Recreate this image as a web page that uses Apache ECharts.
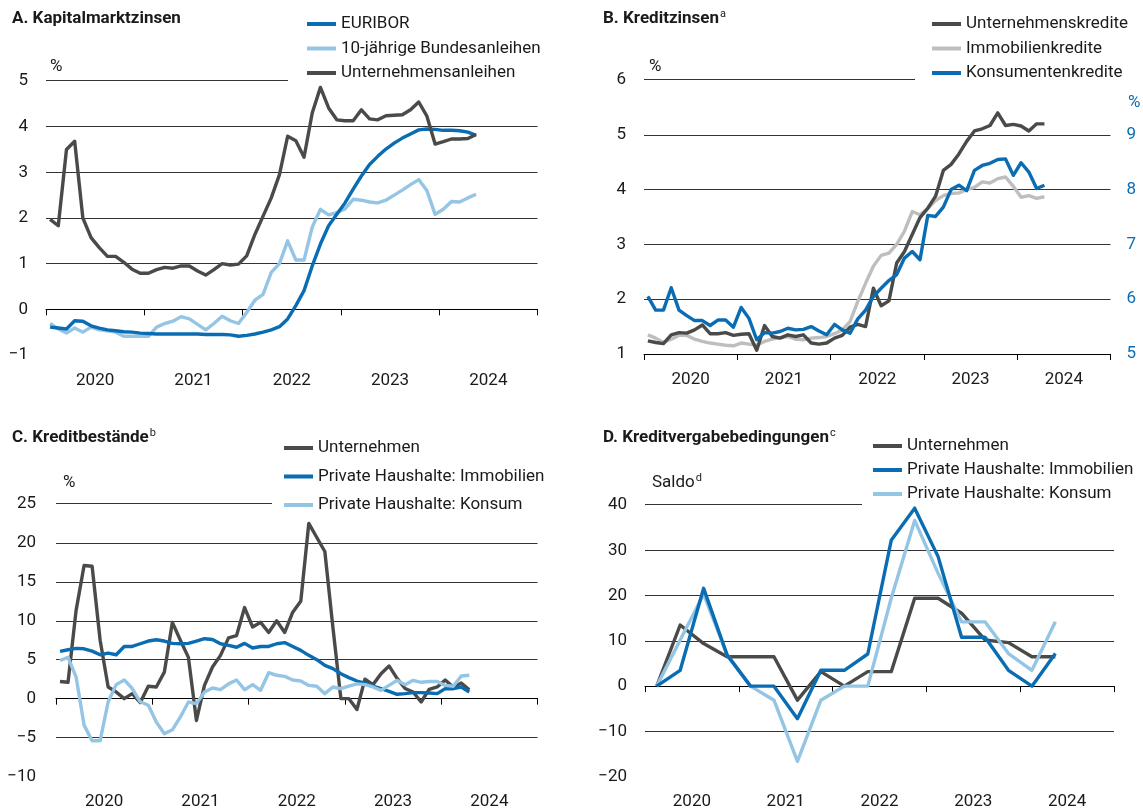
<!DOCTYPE html>
<html><head><meta charset="utf-8">
<script src="https://cdn.jsdelivr.net/npm/echarts@6/dist/echarts.min.js"></script>
<style>html,body{margin:0;padding:0;background:#fff}#c{width:1143px;height:811px}</style>
</head><body><div id="c"></div>
<script>
// ---------- categories ----------
const years = ['2020', '2021', '2022', '2023', '2024'];
const months = [];
years.forEach(y => { for (let m = 1; m <= 12; m++) months.push(y + '-' + (m < 10 ? '0' + m : m)); });
const quarters = [];
years.forEach(y => { for (let q = 1; q <= 4; q++) quarters.push(y + '-Q' + q); });

// ---------- A. Kapitalmarktzinsen (monthly, Jan 2020 - May 2024) ----------
const euribor = [-0.39,-0.41,-0.43,-0.25,-0.26,-0.36,-0.41,-0.45,-0.47,-0.49,-0.50,-0.52,
  -0.53,-0.54,-0.54,-0.54,-0.54,-0.54,-0.54,-0.55,-0.55,-0.55,-0.56,-0.59,
  -0.57,-0.54,-0.50,-0.45,-0.38,-0.21,0.08,0.41,0.95,1.43,1.83,2.08,
  2.33,2.63,2.92,3.17,3.35,3.51,3.64,3.75,3.84,3.93,3.95,3.94,
  3.92,3.92,3.91,3.88,3.81];
const bund10 = [-0.31,-0.43,-0.52,-0.41,-0.50,-0.39,-0.45,-0.47,-0.50,-0.59,-0.59,-0.59,
  -0.59,-0.39,-0.31,-0.26,-0.16,-0.21,-0.33,-0.45,-0.31,-0.15,-0.25,-0.31,
  -0.07,0.20,0.33,0.81,1.00,1.50,1.08,1.08,1.80,2.19,2.07,2.12,
  2.20,2.41,2.39,2.35,2.33,2.39,2.50,2.61,2.73,2.84,2.60,2.08,
  2.19,2.36,2.35,2.44,2.52];
const corpBonds = [1.97,1.83,3.50,3.68,2.00,1.57,1.35,1.16,1.16,1.03,0.88,0.79,
  0.79,0.87,0.92,0.90,0.95,0.95,0.84,0.75,0.87,1.00,0.97,0.99,
  1.17,1.64,2.04,2.44,2.95,3.79,3.69,3.33,4.30,4.86,4.41,4.15,
  4.13,4.13,4.37,4.17,4.15,4.24,4.25,4.26,4.37,4.54,4.23,3.62,
  3.67,3.73,3.73,3.74,3.83];

// ---------- B. Kreditzinsen (monthly, Jan 2020 - Apr 2024) ----------
const unternehmenskredite = [1.24,1.21,1.19,1.35,1.39,1.38,1.44,1.53,1.37,1.37,1.39,1.34,
  1.36,1.37,1.07,1.52,1.32,1.29,1.35,1.32,1.35,1.20,1.18,1.20,
  1.29,1.34,1.49,1.54,1.50,2.20,1.88,1.97,2.66,2.87,3.18,3.49,
  3.66,3.88,4.35,4.46,4.65,4.88,5.07,5.11,5.17,5.40,5.17,5.19,
  5.16,5.07,5.20,5.20];
const immobilienkredite = [1.35,1.29,1.21,1.27,1.34,1.34,1.27,1.23,1.20,1.18,1.16,1.15,
  1.20,1.18,1.16,1.23,1.27,1.30,1.32,1.27,1.26,1.29,1.30,1.32,
  1.37,1.44,1.59,1.96,2.29,2.60,2.80,2.84,3.00,3.24,3.60,3.54,
  3.66,3.80,3.89,3.93,3.94,4.00,4.04,4.14,4.12,4.20,4.23,4.06,
  3.86,3.89,3.84,3.87];
const konsumentenkredite = [6.05,5.80,5.80,6.21,5.80,5.70,5.61,5.61,5.52,5.62,5.62,5.49,
  5.85,5.65,5.26,5.39,5.38,5.41,5.47,5.44,5.45,5.50,5.42,5.35,
  5.54,5.44,5.38,5.64,5.80,6.05,6.20,6.34,6.45,6.75,6.87,6.72,
  7.53,7.51,7.68,8.00,8.08,7.98,8.35,8.44,8.48,8.55,8.56,8.26,
  8.49,8.32,8.02,8.08];

// ---------- C. Kreditbestände (monthly, Jan 2020 - Apr 2024) ----------
const bestandUnternehmen = [2.2,2.1,11.3,17.1,17.0,7.5,1.5,0.85,0.0,0.64,-0.5,1.6,
  1.5,3.4,9.8,7.5,5.3,-2.8,1.7,4.06,5.56,7.8,8.1,11.7,
  9.2,9.8,8.5,10.0,8.5,11.1,12.5,22.5,20.7,18.9,9.2,0.0,
  0.0,-1.4,2.5,1.8,3.2,4.2,2.6,1.3,0.85,-0.43,1.2,1.5,
  2.4,1.5,2.0,1.15];
const bestandImmobilien = [6.07,6.28,6.45,6.4,6.1,5.64,5.85,5.64,6.7,6.7,7.05,7.4,
  7.56,7.4,7.1,7.05,7.1,7.4,7.7,7.6,7.05,6.84,6.6,7.1,
  6.5,6.7,6.7,7.05,7.2,6.7,6.2,5.56,5.0,4.27,3.85,3.2,
  2.7,2.26,2.0,1.6,1.28,0.94,0.56,0.64,0.77,0.77,0.73,0.64,
  1.28,1.28,1.5,0.85];
const bestandKonsum = [4.9,5.3,2.8,-3.4,-5.4,-5.4,-0.4,1.8,2.4,1.3,-0.4,-0.85,
  -3.0,-4.5,-4.0,-2.35,-0.43,-0.64,0.85,1.37,1.15,1.9,2.4,1.15,
  1.8,1.07,3.33,3.0,2.86,2.4,2.26,1.7,1.6,0.64,1.5,1.28,
  1.6,1.9,1.8,1.5,1.07,1.7,2.35,1.8,2.35,2.1,2.2,2.2,
  1.7,1.6,2.9,3.0];

// ---------- D. Kreditvergabebedingungen (quarterly, Q1 2020 - Q2 2024) ----------
const vergabeUnternehmen = [0,13.5,9.4,6.5,6.5,6.5,-3.1,3.2,0,3.2,3.2,19.4,19.4,16.1,10.2,9.6,6.5,6.5];
const vergabeImmobilien = [0,3.5,21.6,6.9,0,0,-7.2,3.5,3.5,7.1,32.2,39.3,28.6,10.8,10.8,3.5,0,7.2];
const vergabeKonsum = [0,10.2,20.3,6.9,0,-3.1,-16.6,-3.1,0,0,19.4,36.6,24.9,14.2,14.2,7.2,3.5,14.2];

// ---------- tick values ----------
const yTicksA = [-1, 5, 1];
const yTicksB = [1, 6, 1];
const yTicksBRight = [5, 10, 1];
const yTicksC = [-10, 25, 5];
const yTicksD = [-20, 40, 10];

// ---------- styling ----------
const FONT = 'Roboto';
const DARK = '#4a4a48', BLUE = '#0a6db3', LBLUE = '#94c5e4', LGRAY = '#bebebe';
const TXT = '#1a1a1a';
const GRID = '#333333';
const LW = 3.4;

const grids = [
  { left: 46, top: 81, width: 491.5, height: 274 },
  { left: 644, top: 80, width: 466.5, height: 274 },
  { left: 56, top: 504, width: 481.5, height: 272.5 },
  { left: 645, top: 505, width: 469, height: 271.7 }
];

function minus(v) { return v < 0 ? '\u2212' + Math.abs(v) : String(v); }

const xAxes = [], yAxes = [];
grids.forEach((g, i) => {
  xAxes.push({
    type: 'category', gridIndex: i, data: years, boundaryGap: true,
    axisLine: { show: true, lineStyle: { color: '#000', width: 1 } },
    axisTick: { show: true, length: 6, interval: 0, lineStyle: { color: '#000' } },
    axisLabel: { fontFamily: FONT, fontSize: 17, color: TXT, margin: 17, interval: 0 },
    splitLine: { show: false }
  });
  xAxes.push({ type: 'category', gridIndex: i, data: i === 3 ? quarters : months, boundaryGap: true, show: false });
});
function yAx(gi, t, extra) {
  return Object.assign({
    type: 'value', gridIndex: gi, min: t[0], max: t[1], interval: t[2],
    axisLine: { show: false }, axisTick: { show: false },
    axisLabel: { fontFamily: FONT, fontSize: 17, color: TXT, margin: 18, formatter: minus },
    splitLine: { show: true, showMaxLine: false, showMinLine: false, lineStyle: { color: GRID, width: 1 } }
  }, extra || {});
}
yAxes.push(yAx(0, yTicksA));
yAxes.push(yAx(1, yTicksB));
yAxes.push(yAx(1, yTicksBRight, {
  position: 'right', splitLine: { show: false },
  axisLabel: { fontFamily: FONT, fontSize: 17, color: BLUE, margin: 16, showMaxLabel: false, formatter: minus }
}));
yAxes.push(yAx(2, yTicksC, { axisLabel: { fontFamily: FONT, fontSize: 17, color: TXT, margin: 20, formatter: minus } }));
yAxes.push(yAx(3, yTicksD));

function line(name, data, color, xi, yi, z) {
  return {
    type: 'line', name, data, xAxisIndex: xi, yAxisIndex: yi, color,
    symbol: 'none', z: z || 2, animation: false,
    lineStyle: { color, width: LW, join: 'round' }, itemStyle: { color }
  };
}
const series = [
  line('10-jährige Bundesanleihen', bund10, LBLUE, 1, 0, 2),
  line('EURIBOR', euribor, BLUE, 1, 0, 3),
  line('Unternehmensanleihen', corpBonds, DARK, 1, 0, 4),
  line('Immobilienkredite', immobilienkredite, LGRAY, 3, 1, 2),
  line('Unternehmenskredite', unternehmenskredite, DARK, 3, 1, 3),
  line('Konsumentenkredite', konsumentenkredite, BLUE, 3, 2, 4),
  line('Unternehmen', bestandUnternehmen, DARK, 5, 3, 2),
  line('Private Haushalte: Immobilien', bestandImmobilien, BLUE, 5, 3, 3),
  line('Private Haushalte: Konsum', bestandKonsum, LBLUE, 5, 3, 4),
  line('Unternehmen', vergabeUnternehmen, DARK, 7, 4, 2),
  line('Private Haushalte: Konsum', vergabeKonsum, LBLUE, 7, 4, 3),
  line('Private Haushalte: Immobilien', vergabeImmobilien, BLUE, 7, 4, 4)
];

function legend(left, top, names, gap) {
  return {
    orient: 'vertical', left, top, data: names, icon: 'rect', itemWidth: 29, itemHeight: 4,
    itemGap: gap, selectedMode: false,
    textStyle: { fontFamily: FONT, fontSize: 17, color: TXT, lineHeight: 20 }
  };
}
const titleRich = {
  t: { fontFamily: FONT, fontSize: 17, fontWeight: 'bold', color: TXT, lineHeight: 20 },
  s: { fontFamily: FONT, fontSize: 11, fontWeight: 'normal', color: TXT, lineHeight: 20, verticalAlign: 'top', padding: [0, 0, 6, 1] }
};
function title(left, top, main, sup) {
  return { left, top, text: sup ? '{t|' + main + '}{s|' + sup + '}' : '{t|' + main + '}', textStyle: { rich: titleRich } };
}

const hl = (x1, x2, y) => ({ type: 'line', silent: true, shape: { x1, y1: y + 0.5, x2, y2: y + 0.5 }, style: { stroke: GRID, lineWidth: 1 } });
const txt = (x, y, text, color) => ({ type: 'text', silent: true, x, y, style: { text, fill: color || TXT, font: '17px ' + FONT, verticalAlign: 'middle' } });

const option = {
  backgroundColor: '#fff',
  animation: false,
  title: [
    title(7, 4, 'A. Kapitalmarktzinsen'),
    title(598, 4, 'B. Kreditzinsen', 'a'),
    title(7, 423, 'C. Kreditbestände', 'b'),
    title(598, 423, 'D. Kreditvergabebedingungen', 'c')
  ],
  legend: [
    legend(302, 9, ['EURIBOR', '10-jährige Bundesanleihen', 'Unternehmensanleihen'], 4.5),
    legend(927, 9, ['Unternehmenskredite', 'Immobilienkredite', 'Konsumentenkredite'], 4.5),
    legend(279, 433, ['Unternehmen', 'Private Haushalte: Immobilien', 'Private Haushalte: Konsum'], 8.5),
    legend(868, 431, ['Unternehmen', 'Private Haushalte: Immobilien', 'Private Haushalte: Konsum'], 4)
  ],
  grid: grids,
  xAxis: xAxes,
  yAxis: yAxes,
  series,
  graphic: [
    hl(46, 288, 80),
    hl(644, 915, 79),
    hl(56, 272, 503),
    hl(645, 862, 504),
    txt(50, 67, '%'),
    txt(649, 67, '%'),
    txt(1128, 103, '%', BLUE),
    txt(63, 483, '%'),
    {
      type: 'text', silent: true, x: 652, y: 483,
      style: {
        text: '{a|Saldo}{b|d}', verticalAlign: 'middle',
        rich: { a: { font: '17px ' + FONT, fill: TXT, lineHeight: 20 }, b: { font: '11px ' + FONT, fill: TXT, lineHeight: 20, verticalAlign: 'top', padding: [0, 0, 6, 1] } }
      }
    }
  ]
};
const chart = echarts.init(document.getElementById('c'), null, { renderer: 'canvas' });
chart.setOption(option);
</script></body></html>
